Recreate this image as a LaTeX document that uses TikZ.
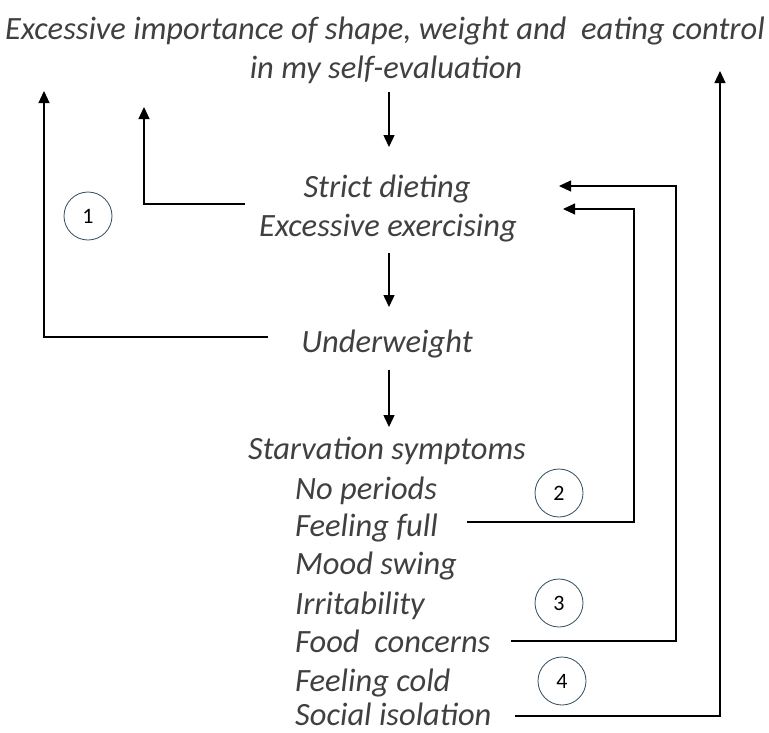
\documentclass[tikz,border=0pt]{standalone}
\usepackage{fontspec}
\setmainfont{Carlito}
\usetikzlibrary{arrows.meta}
\definecolor{txt}{HTML}{404040}
\definecolor{ring}{HTML}{2E4B5E}
\begin{document}
\begin{tikzpicture}[x=1pt,y=-1pt,
  lbl/.style={font=\fontsize{32.5}{38}\selectfont\itshape, text=txt, inner sep=0pt, anchor=base},
  item/.style={lbl, anchor=base west},
  num/.style={circle, draw=ring, line width=0.8pt, minimum size=48pt, inner sep=0pt, font=\fontsize{22}{24}\selectfont, text=black},
  flow/.style={line width=1.5pt, -{Triangle[length=12pt,width=11pt]}},
  back/.style={line width=1.1pt, -{Triangle[length=12pt,width=11pt]}}]
\useasboundingbox (0,0) rectangle (769,732);
% texts
\node[lbl] (t1) at (385,39) {Excessive importance of shape, weight and\ \ eating control};
\node[lbl] (t2) at (386,78) {in my self-evaluation};
\node[lbl] (sd) at (387,197) {Strict dieting};
\node[lbl] (ee) at (388,236) {Excessive exercising};
\node[lbl] (uw) at (387,352) {Underweight};
\node[lbl] (ss) at (387,459) {Starvation symptoms};
\node[item] (np) at (295,499) {No periods};
\node[item] (ff) at (295,536) {Feeling full};
\node[item] (ms) at (295,574) {Mood swing};
\node[item] (ir) at (295,614) {Irritability};
\node[item] (fc) at (295,652) {Food\ \ concerns};
\node[item] (fd) at (295,691) {Feeling cold};
\node[item] (si) at (295,725) {Social isolation};
% numbered circles
\node[num] (c1) at (88,216) {1};
\node[num] (c2) at (559,493) {2};
\node[num] (c3) at (559,603) {3};
\node[num] (c4) at (562,681) {4};
% connector points
\coordinate (a1s) at (389,92);  \coordinate (a1e) at (389,147);
\coordinate (a2s) at (389,253); \coordinate (a2e) at (389,307);
\coordinate (a3s) at (389,370); \coordinate (a3e) at (389,427);
\coordinate (o1s) at (268,337); \coordinate (o1e) at (44,91);
\coordinate (i1s) at (245,204); \coordinate (i1e) at (144,107);
\coordinate (r2s) at (467,522); \coordinate (r2e) at (563,209);
\coordinate (r3s) at (511,641); \coordinate (r3e) at (559,186);
\coordinate (r4s) at (515,716); \coordinate (r4e) at (720,71);
% main flow
\draw[flow] (a1s) -- (a1e);
\draw[flow] (a2s) -- (a2e);
\draw[flow] (a3s) -- (a3e);
% loops
\draw[back] (o1s) -| (o1e);
\draw[back] (i1s) -| (i1e);
\draw[back] (r2s) -- (634,522) |- (r2e);
\draw[back] (r3s) -- (676,641) |- (r3e);
\draw[back] (r4s) -| (r4e);
\end{tikzpicture}
\end{document}
